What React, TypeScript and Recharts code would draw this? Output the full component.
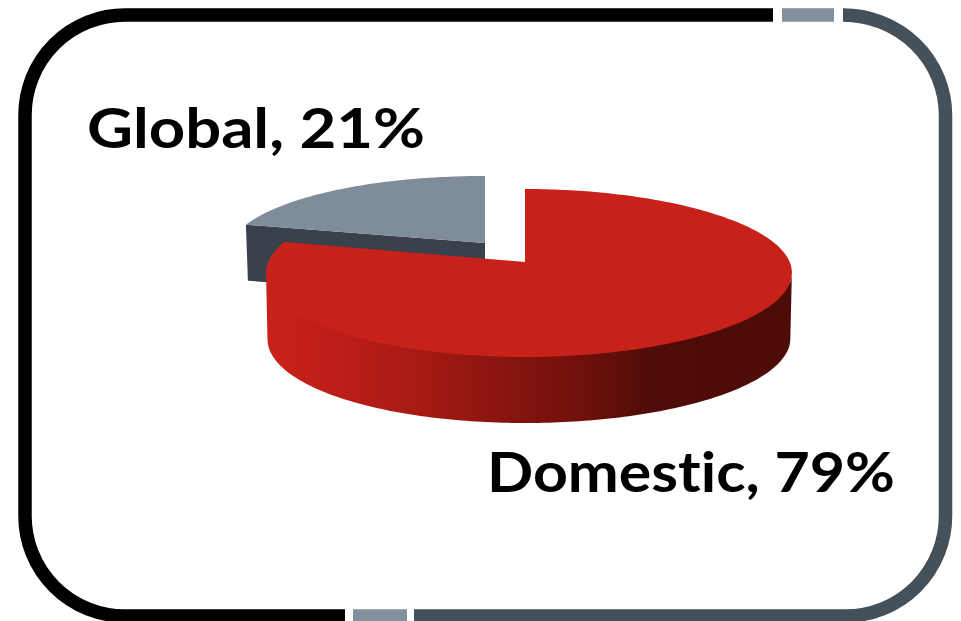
import { PieChart, Pie } from 'recharts';

const sliceNames = ['Global', 'Domestic'];
const sliceValues = [21, 79];
const pieData = sliceNames.map((name, i) => ({ name, value: sliceValues[i] }));

const WIDTH = 961;
const HEIGHT = 621;

const SQUASH = 0.3167;
const PERSPECTIVE = 0.131;
const LEAN = 4;

const FACE = { Global: '#7f8c9a', Domestic: '#c8211a' } as any;

// how each slice sits on the page: the small one is pulled out and back
const PLACEMENT = {
  Global: { ox: -40, oy: -19, sx: 0.993, sy: 0.918, depth: 56 },
  Domestic: { ox: 0, oy: 0, sx: 1, sy: 1, depth: 66 },
} as any;

const LABEL_POS = {
  Global: { x: 87, y: 148, len: 338 },
  Domestic: { x: 487, y: 492, len: 408 },
} as any;

const rad = (deg: number) => (deg * Math.PI) / 180;

function rimPoint(cx: number, cy: number, r: number, deg: number, p: any, drop = 0, shrink = 1) {
  const nx = Math.cos(rad(deg));
  const ny = -Math.sin(rad(deg));
  const w = 1 - PERSPECTIVE * ny;
  return {
    x: cx + p.ox + (r * shrink * p.sx * nx) / w + LEAN * nx * nx,
    y: cy + p.oy + drop + (r * SQUASH * p.sy * ny) / w,
  };
}

const toPath = (pts: { x: number; y: number }[]) =>
  pts.map((pt, i) => `${i ? 'L' : 'M'}${pt.x.toFixed(1)} ${pt.y.toFixed(1)}`).join(' ') + ' Z';

function sweep(from: number, to: number) {
  const out: number[] = [];
  for (let a = from; a < to; a += 1) out.push(a);
  out.push(to);
  return out;
}

// flat sector squeezed into perspective, with the side walls underneath
function Slice3D(props: any) {
  const { cx, cy, outerRadius, startAngle, endAngle, name } = props;
  const p = PLACEMENT[name];
  const top = sweep(startAngle, endAngle).map((a) => rimPoint(cx, cy, outerRadius, a, p));
  const apex = { x: cx + p.ox, y: cy + p.oy };

  if (name === 'Domestic') {
    // perspective puts the widest points of the rim slightly in front of the horizontal
    const angles = sweep(Math.max(startAngle, 187.5), Math.min(endAngle, 352.5));
    // front of the upper edge is tucked under the face so no seam shows
    const upper = angles.map((a) => rimPoint(cx, cy, outerRadius, a, p, a > 195 && a < 345 ? -3 : 0));
    const lower = angles.map((a) => rimPoint(cx, cy, outerRadius, a, p, p.depth, 0.994)).reverse();
    return (
      <g>
        <path d={toPath([...upper, ...lower])} fill="url(#rimShade)" />
        <path d={toPath([apex, ...top])} fill={FACE[name]} />
      </g>
    );
  }

  // only the cut edge of the back slice faces the viewer
  const corner = rimPoint(cx, cy, outerRadius, endAngle, p);
  const wall = [corner, apex, { x: apex.x, y: apex.y + p.depth }, { x: corner.x + 2, y: corner.y + p.depth }];
  return (
    <g>
      <path d={toPath(wall)} fill="#39424c" />
      <path d={toPath([apex, ...top])} fill={FACE[name]} />
    </g>
  );
}

const renderLabel = (props: any) => {
  const pos = LABEL_POS[props.name];
  return (
    <text
      x={pos.x}
      y={pos.y}
      fontFamily="Lato, sans-serif"
      fontWeight={700}
      fontSize={56}
      fill="#000"
      textLength={pos.len}
      lengthAdjust="spacingAndGlyphs"
      style={{ fontVariantLigatures: 'none' }}
    >
      {`${props.name}, ${props.value}%`}
    </text>
  );
};

export default function App() {
  return (
    <div style={{ position: 'absolute', left: 0, top: 0, width: WIDTH, height: HEIGHT, background: '#fff' }}>
      <PieChart width={WIDTH} height={HEIGHT} margin={{ top: 0, right: 0, bottom: 0, left: 0 }}>
        <defs>
          <linearGradient id="rimShade" gradientUnits="userSpaceOnUse" x1="266" y1="0" x2="793" y2="0">
            <stop offset="0" stopColor="#c8211a" />
            <stop offset="0.12" stopColor="#bf1e18" />
            <stop offset="0.28" stopColor="#a81a14" />
            <stop offset="0.41" stopColor="#901610" />
            <stop offset="0.6" stopColor="#6f100b" />
            <stop offset="0.73" stopColor="#4f0c08" />
            <stop offset="1" stopColor="#4d0c08" />
          </linearGradient>
        </defs>

        {/* rounded frame, split into three runs */}
        <g fill="none" strokeWidth={13.5}>
          <path
            stroke="#000"
            d="M773 15 H125 A100 100 0 0 0 25 115 V516 A100 100 0 0 0 125 616 H345"
          />
          <path stroke="#83909e" d="M782 15 H834 M353 616 H407" />
          <path
            stroke="#44505a"
            d="M843 15 A102.5 100 0 0 1 945.5 115 V516 A100 100 0 0 1 845.5 616 H414"
          />
        </g>

        <Pie
          data={pieData}
          dataKey="value"
          nameKey="name"
          cx={525}
          cy={262}
          outerRadius={260.7}
          startAngle={90}
          endAngle={450}
          stroke="none"
          shape={Slice3D}
          label={renderLabel}
          labelLine={false}
          isAnimationActive={false}
        />
      </PieChart>
    </div>
  );
}
